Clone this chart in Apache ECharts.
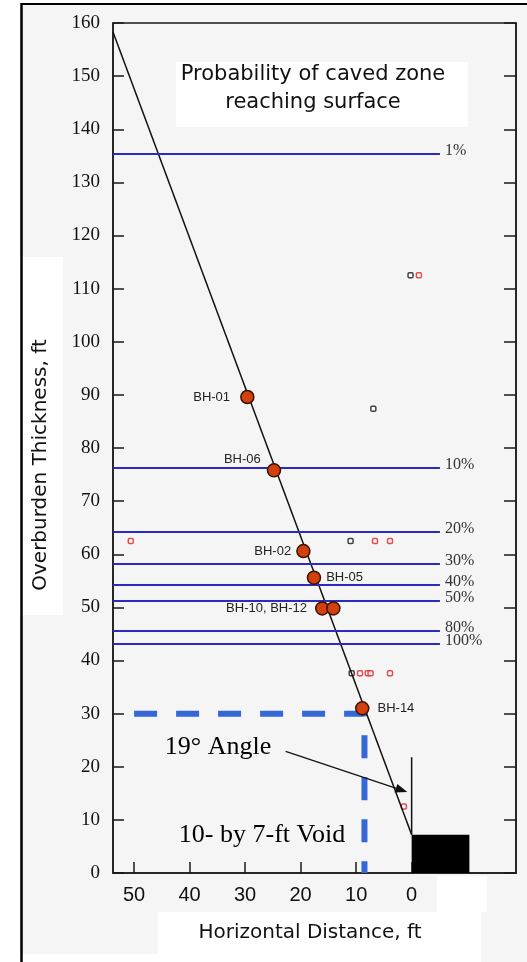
<!DOCTYPE html>
<html>
<head>
<meta charset="utf-8">
<script src="https://cdn.jsdelivr.net/npm/echarts@6/dist/echarts.min.js"></script>
<style>
  html, body { margin: 0; padding: 0; background: #fff; }
  #chart { width: 527px; height: 962px; }
</style>
</head>
<body>
<div id="chart"></div>
<script>
// probability of caved zone reaching surface (horizontal lines)
const probLevels = [135.3, 76.2, 64.2, 58.2, 54.2, 51.2, 45.6, 43.1];
const probLabels = ['1%', '10%', '20%', '30%', '40%', '50%', '80%', '100%'];

// boreholes on the 19 degree line
const bhNames = ['BH-01', 'BH-06', 'BH-02', 'BH-05', 'BH-10, BH-12', '', 'BH-14'];
const bhDist = [29.6, 24.8, 19.5, 17.6, 16.1, 14.1, 8.9];
const bhThick = [89.6, 75.8, 60.6, 55.6, 49.8, 49.8, 31.0];

// small hollow markers
const blackDist = [0.2, 6.9, 11.0, 10.8];
const blackThick = [112.5, 87.4, 62.5, 37.6];
const redDist = [-1.3, 50.6, 6.6, 3.9, 9.3, 7.9, 7.4, 3.9, 1.4];
const redThick = [112.5, 62.5, 62.5, 62.5, 37.6, 37.6, 37.6, 37.6, 12.5];

// caving line, 30 ft example, void
const caveDist = [53.8, 0];
const caveThick = [158.3, 7.2];
const exDist = [50, 8.5, 8.5];
const exThick = [30, 30, 0];
const voidDist = [0, -10.4];
const voidThick = [0, 7.2];
const wallDist = [0, 0];
const wallThick = [7.2, 21.8];
const arrowDist = [22.7, 1.8];
const arrowThick = [22.9, 15.6];

const xTicks = [50, 40, 30, 20, 10, 0];

const myChart = echarts.init(document.getElementById('chart'));

// label placement per borehole
const bhLabelPos = [
  { position: 'left', distance: 10, offset: [0, 0] },
  { position: 'left', distance: 6, offset: [0, -11] },
  { position: 'left', distance: 5, offset: [0, 0] },
  { position: 'right', distance: 5, offset: [0, 0] },
  { position: 'left', distance: 8, offset: [0, 0] },
  { position: 'left', distance: 5, offset: [0, 0] },
  { position: 'right', distance: 8, offset: [0, 0] }
];

const serif = 'Liberation Serif';
const sans = 'DejaVu Sans';

var option = {
  backgroundColor: '#f5f5f5',
  animation: false,
  grid: {
    left: 113, right: 11, top: 23, bottom: 89,
    outerBoundsMode: 'none',
    show: true, borderColor: '#1a1a1a', borderWidth: 1.5,
    backgroundColor: 'transparent'
  },
  xAxis: {
    type: 'value',
    inverse: true,
    min: -18.8,
    max: 53.8,
    splitLine: { show: false },
    axisLine: { onZero: false, lineStyle: { color: '#1a1a1a', width: 1.5 } },
    axisTick: { inside: true, length: 11, customValues: xTicks, lineStyle: { color: '#1a1a1a', width: 1.5 } },
    axisLabel: {
      customValues: xTicks, margin: 12,
      fontFamily: 'Liberation Sans', fontSize: 20, color: '#111'
    }
  },
  yAxis: [
    {
      type: 'value', min: 0, max: 160, interval: 10, position: 'left',
      splitLine: { show: false },
      axisLine: { show: true, onZero: false, lineStyle: { color: '#1a1a1a', width: 1.5 } },
      axisTick: { inside: true, length: 11, lineStyle: { color: '#1a1a1a', width: 1.5 } },
      axisLabel: { margin: 13, fontFamily: serif, fontSize: 19, color: '#111' }
    },
    {
      type: 'value', min: 0, max: 160, interval: 10, position: 'right',
      splitLine: { show: false },
      axisLine: { show: true, onZero: false, lineStyle: { color: '#1a1a1a', width: 1.5 } },
      axisTick: { inside: true, length: 12, lineStyle: { color: '#1a1a1a', width: 1.5 } },
      axisLabel: { show: false }
    }
  ],
  graphic: [
    { type: 'rect', shape: { x: 0, y: 0, width: 21, height: 962 }, style: { fill: '#fff' } },
    { type: 'rect', shape: { x: 0, y: 0, width: 527, height: 3 }, style: { fill: '#fff' } },
    { type: 'rect', shape: { x: 21, y: 954, width: 460, height: 8 }, style: { fill: '#fff' } },
    { type: 'line', shape: { x1: 21.5, y1: 3, x2: 21.5, y2: 962 }, style: { stroke: '#000', lineWidth: 2.5 } },
    { type: 'line', shape: { x1: 21, y1: 4, x2: 527, y2: 4 }, style: { stroke: '#000', lineWidth: 2 } },
    // white boxes behind the titles
    { type: 'rect', shape: { x: 23, y: 257, width: 40, height: 358 }, style: { fill: '#fff' } },
    { type: 'rect', shape: { x: 176, y: 62, width: 292, height: 65 }, style: { fill: '#fff' } },
    { type: 'rect', shape: { x: 158, y: 912, width: 323, height: 42 }, style: { fill: '#fff' } },
    { type: 'rect', shape: { x: 437, y: 876, width: 50, height: 36 }, style: { fill: '#fff' } },
    // titles
    {
      type: 'text', style: {
        x: 313, y: 89, text: 'Probability of caved zone\nreaching surface',
        textAlign: 'center', textVerticalAlign: 'middle', lineHeight: 28,
        fontFamily: sans, fontSize: 21, fill: '#111'
      }
    },
    {
      type: 'text', style: {
        x: 310, y: 933, text: 'Horizontal Distance, ft',
        textAlign: 'center', textVerticalAlign: 'middle',
        fontFamily: sans, fontSize: 20, fill: '#111'
      }
    },
    {
      type: 'text', x: 41, y: 465, rotation: Math.PI / 2, style: {
        x: 0, y: 0, text: 'Overburden Thickness, ft',
        textAlign: 'center', textVerticalAlign: 'middle',
        fontFamily: sans, fontSize: 20, fill: '#111'
      }
    },
    {
      type: 'text', z: 10, style: {
        x: 218, y: 747, text: '19° Angle',
        textAlign: 'center', textVerticalAlign: 'middle',
        fontFamily: serif, fontSize: 26, fill: '#000'
      }
    },
    {
      type: 'text', z: 10, style: {
        x: 262, y: 835, text: '10- by 7-ft Void',
        textAlign: 'center', textVerticalAlign: 'middle',
        fontFamily: serif, fontSize: 26, fill: '#000'
      }
    }
  ],
  series: [
    {
      // probability lines
      type: 'line',
      data: [],
      markLine: {
        silent: true,
        symbol: 'none',
        lineStyle: { color: '#2b2bbd', width: 2, type: 'solid' },
        label: {
          position: 'end', formatter: '{b}', distance: 5, offset: [0, -3],
          fontFamily: serif, fontSize: 16, color: '#333'
        },
        data: probLevels.map((v, i) => [
          { coord: [caveDist[0], v], name: probLabels[i] },
          { coord: [-5.1, v] }
        ])
      }
    },
    {
      // 30 ft example
      type: 'line',
      data: exDist.map((x, i) => [x, exThick[i]]),
      symbol: 'none',
      lineStyle: { color: '#3567d6', width: 6, type: [23, 19], cap: 'butt' }
    },
    {
      // caving line
      type: 'line',
      data: caveDist.map((x, i) => [x, caveThick[i]]),
      symbol: 'none',
      lineStyle: { color: '#111', width: 1.5 }
    },
    {
      type: 'line',
      data: wallDist.map((x, i) => [x, wallThick[i]]),
      symbol: 'none',
      lineStyle: { color: '#111', width: 1.5 },
      markArea: {
        silent: true,
        itemStyle: { color: '#000' },
        data: [[{ coord: [voidDist[0], voidThick[0]] }, { coord: [voidDist[1], voidThick[1]] }]]
      },
      markLine: {
        silent: true,
        symbol: ['none', 'triangle'],
        symbolSize: [9, 12],
        lineStyle: { color: '#111', width: 1.2, type: 'solid' },
        label: { show: false },
        data: [[{ coord: [arrowDist[0], arrowThick[0]] }, { coord: [arrowDist[1], arrowThick[1]] }]]
      }
    },
    {
      type: 'scatter',
      data: blackDist.map((x, i) => [x, blackThick[i]]),
      symbol: 'roundRect',
      symbolSize: 5,
      itemStyle: { color: '#fff', borderColor: '#111', borderWidth: 1.5 }
    },
    {
      type: 'scatter',
      data: redDist.map((x, i) => [x, redThick[i]]),
      symbol: 'roundRect',
      symbolSize: 5,
      itemStyle: { color: '#fff', borderColor: '#e02020', borderWidth: 1.5 }
    },
    {
      type: 'scatter',
      z: 5,
      data: bhDist.map((x, i) => ({
        value: [x, bhThick[i]],
        name: bhNames[i],
        label: bhLabelPos[i]
      })),
      symbolSize: 13,
      itemStyle: { color: '#d2400e', borderColor: '#3a1204', borderWidth: 1.5, opacity: 1 },
      label: {
        show: true, formatter: '{b}',
        fontFamily: 'Liberation Sans', fontSize: 13, color: '#222'
      }
    }
  ]
};

myChart.setOption(option);
</script>
</body>
</html>
